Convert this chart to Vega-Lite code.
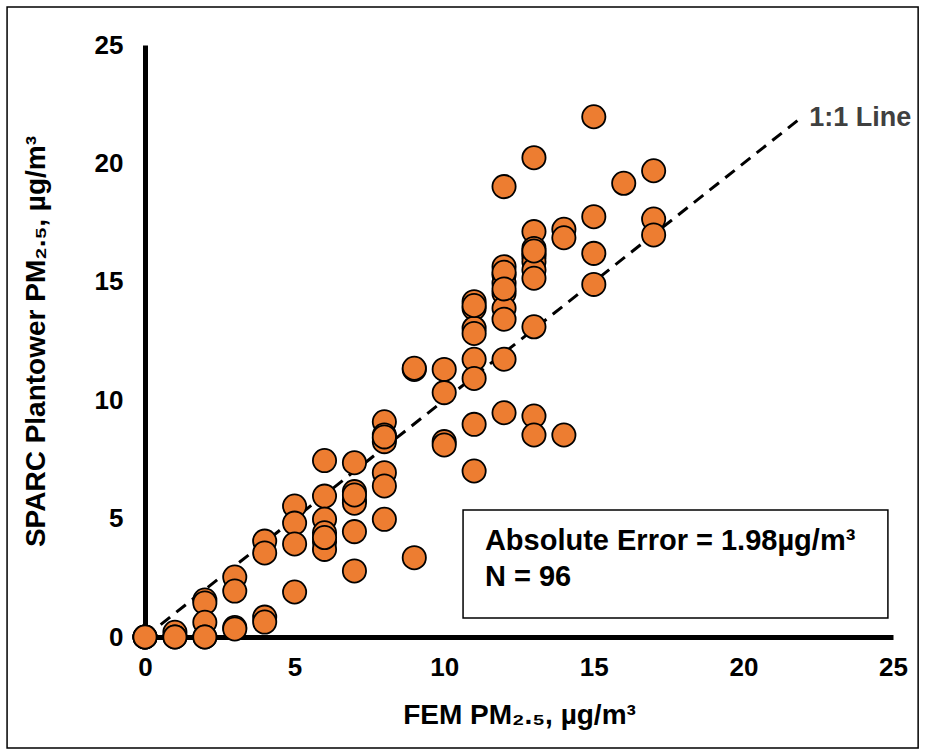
{
  "$schema": "https://vega.github.io/schema/vega-lite/v6.json",
  "width": 748,
  "height": 592,
  "autosize": {"type": "none"},
  "padding": {"left": 145, "top": 45, "right": 32, "bottom": 119},
  "background": "white",
  "config": {"view": {"stroke": null}, "font": "Liberation Sans"},
  "datasets": {
    "pts": [
      {"fem": 0, "sparc": 0}, {"fem": 0, "sparc": 0}, {"fem": 0, "sparc": 0}, {"fem": 0, "sparc": 0},
      {"fem": 1, "sparc": 0.2}, {"fem": 1, "sparc": 0}, {"fem": 1, "sparc": 0},
      {"fem": 2, "sparc": 1.56}, {"fem": 2, "sparc": 1.44}, {"fem": 2, "sparc": 0.62}, {"fem": 2, "sparc": 0}, {"fem": 2, "sparc": 0},
      {"fem": 3, "sparc": 2.53}, {"fem": 3, "sparc": 1.94}, {"fem": 3, "sparc": 0.4}, {"fem": 3, "sparc": 0.34},
      {"fem": 4, "sparc": 4.05}, {"fem": 4, "sparc": 3.55}, {"fem": 4, "sparc": 0.84}, {"fem": 4, "sparc": 0.63},
      {"fem": 5, "sparc": 5.53}, {"fem": 5, "sparc": 4.81}, {"fem": 5, "sparc": 3.93}, {"fem": 5, "sparc": 1.9},
      {"fem": 6, "sparc": 7.45}, {"fem": 6, "sparc": 5.95}, {"fem": 6, "sparc": 4.97}, {"fem": 6, "sparc": 4.4}, {"fem": 6, "sparc": 4.02}, {"fem": 6, "sparc": 3.7}, {"fem": 6, "sparc": 4.2},
      {"fem": 7, "sparc": 7.36}, {"fem": 7, "sparc": 6.14}, {"fem": 7, "sparc": 5.79}, {"fem": 7, "sparc": 5.65}, {"fem": 7, "sparc": 4.45}, {"fem": 7, "sparc": 2.79}, {"fem": 7, "sparc": 6.0},
      {"fem": 8, "sparc": 9.09}, {"fem": 8, "sparc": 8.53}, {"fem": 8, "sparc": 8.39}, {"fem": 8, "sparc": 8.25}, {"fem": 8, "sparc": 6.94}, {"fem": 8, "sparc": 6.38}, {"fem": 8, "sparc": 4.97}, {"fem": 8, "sparc": 8.45},
      {"fem": 9, "sparc": 11.3}, {"fem": 9, "sparc": 11.35}, {"fem": 9, "sparc": 3.35},
      {"fem": 10, "sparc": 11.3}, {"fem": 10, "sparc": 10.32}, {"fem": 10, "sparc": 8.25}, {"fem": 10, "sparc": 8.11},
      {"fem": 11, "sparc": 14.16}, {"fem": 11, "sparc": 13.88}, {"fem": 11, "sparc": 13.04}, {"fem": 11, "sparc": 12.82}, {"fem": 11, "sparc": 11.73}, {"fem": 11, "sparc": 10.92}, {"fem": 11, "sparc": 8.98}, {"fem": 11, "sparc": 7.01}, {"fem": 11, "sparc": 14.0},
      {"fem": 12, "sparc": 19.02}, {"fem": 12, "sparc": 15.64}, {"fem": 12, "sparc": 15.29}, {"fem": 12, "sparc": 14.94}, {"fem": 12, "sparc": 14.52}, {"fem": 12, "sparc": 13.88}, {"fem": 12, "sparc": 13.42}, {"fem": 12, "sparc": 11.73}, {"fem": 12, "sparc": 9.47}, {"fem": 12, "sparc": 15.4}, {"fem": 12, "sparc": 14.7},
      {"fem": 13, "sparc": 20.24}, {"fem": 13, "sparc": 17.12}, {"fem": 13, "sparc": 16.41}, {"fem": 13, "sparc": 16.2}, {"fem": 13, "sparc": 16.06}, {"fem": 13, "sparc": 15.85}, {"fem": 13, "sparc": 15.5}, {"fem": 13, "sparc": 15.15}, {"fem": 13, "sparc": 13.1}, {"fem": 13, "sparc": 9.33}, {"fem": 13, "sparc": 8.53}, {"fem": 13, "sparc": 16.3},
      {"fem": 14, "sparc": 17.22}, {"fem": 14, "sparc": 16.86}, {"fem": 14, "sparc": 8.53},
      {"fem": 15, "sparc": 21.97}, {"fem": 15, "sparc": 17.75}, {"fem": 15, "sparc": 16.2}, {"fem": 15, "sparc": 14.89},
      {"fem": 16, "sparc": 19.16},
      {"fem": 17, "sparc": 19.69}, {"fem": 17, "sparc": 17.65}, {"fem": 17, "sparc": 16.98}
    ],
    "ref": [{"fem": 0, "sparc": 0}, {"fem": 22, "sparc": 22}]
  },
  "layer": [
    {
      "data": {"values": [{}]},
      "mark": {"type": "rect", "fill": "transparent", "stroke": "black", "strokeWidth": 1.5, "clip": false},
      "encoding": {
        "x": {"datum": -4.61, "type": "quantitative", "scale": {"domain": [0, 25], "nice": false}},
        "x2": {"datum": 25.84},
        "y": {"datum": 26.6, "type": "quantitative", "scale": {"domain": [0, 25], "nice": false}},
        "y2": {"datum": -4.69}
      }
    },
    {
      "data": {"name": "ref"},
      "mark": {"type": "line", "color": "black", "strokeWidth": 3, "strokeDash": [12, 8]},
      "encoding": {
        "x": {"field": "fem", "type": "quantitative", "scale": {"domain": [0, 25], "nice": false}},
        "y": {"field": "sparc", "type": "quantitative", "scale": {"domain": [0, 25], "nice": false}}
      }
    },
    {
      "data": {"name": "pts"},
      "mark": {"type": "point", "filled": true, "fill": "#ED7D31", "stroke": "black", "strokeWidth": 1.8, "size": 540, "opacity": 1},
      "encoding": {
        "x": {
          "field": "fem", "type": "quantitative",
          "scale": {"domain": [0, 25], "nice": false},
          "axis": {
            "values": [0, 5, 10, 15, 20, 25], "domainColor": "black", "domainWidth": 5, "ticks": false, "grid": false,
            "labelFontWeight": "bold", "labelFontSize": 26, "labelPadding": 17, "labelColor": "black", "labelFlush": false,
            "title": "FEM PM₂.₅, µg/m³", "titleFontSize": 28, "titleFontWeight": "bold", "titleColor": "black", "titlePadding": 21
          }
        },
        "y": {
          "field": "sparc", "type": "quantitative",
          "scale": {"domain": [0, 25], "nice": false},
          "axis": {
            "values": [0, 5, 10, 15, 20, 25], "domainColor": "black", "domainWidth": 5, "ticks": false, "grid": false,
            "labelFontWeight": "bold", "labelFontSize": 26, "labelPadding": 22, "labelColor": "black", "labelFlush": false,
            "title": "SPARC Plantower PM₂.₅, µg/m³", "titleFontSize": 28, "titleFontWeight": "bold", "titleColor": "black", "titlePadding": 44
          }
        }
      }
    },
    {
      "data": {"values": [{}]},
      "mark": {"type": "text", "text": "1:1 Line", "align": "left", "baseline": "middle", "fontSize": 27, "fontWeight": "bold", "color": "#404040", "clip": false},
      "encoding": {
        "x": {"datum": 22.2, "type": "quantitative", "scale": {"domain": [0, 25], "nice": false}},
        "y": {"datum": 21.9, "type": "quantitative", "scale": {"domain": [0, 25], "nice": false}}
      }
    },
    {
      "data": {"values": [{}]},
      "mark": {"type": "rect", "fill": "white", "stroke": "black", "strokeWidth": 1.5},
      "encoding": {
        "x": {"datum": 10.63, "type": "quantitative", "scale": {"domain": [0, 25], "nice": false}},
        "x2": {"datum": 24.83},
        "y": {"datum": 5.36, "type": "quantitative", "scale": {"domain": [0, 25], "nice": false}},
        "y2": {"datum": 0.8}
      }
    },
    {
      "data": {"values": [{"label": "Absolute Error = 1.98µg/m³", "row": 4.05}, {"label": "N = 96", "row": 2.55}]},
      "mark": {"type": "text", "align": "left", "baseline": "middle", "fontSize": 29, "fontWeight": "bold", "color": "black"},
      "encoding": {
        "x": {"datum": 11.36, "type": "quantitative", "scale": {"domain": [0, 25], "nice": false}},
        "y": {"field": "row", "type": "quantitative", "scale": {"domain": [0, 25], "nice": false}},
        "text": {"field": "label"}
      }
    }
  ]
}
